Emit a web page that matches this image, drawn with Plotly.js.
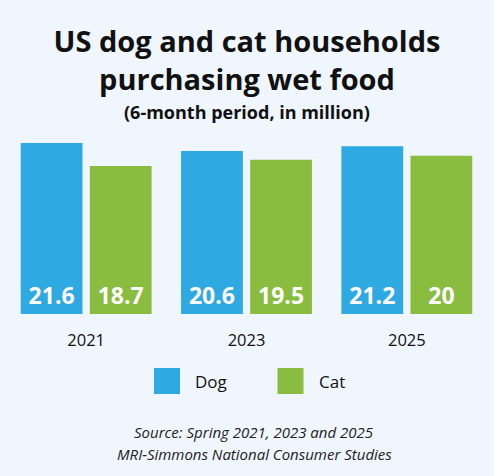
<!DOCTYPE html>
<html>
<head>
<meta charset="utf-8">
<script src="https://cdn.plot.ly/plotly-3.0.1.min.js"></script>
<style>
html,body{margin:0;padding:0;background:#EFF6FD;}
#chart{width:494px;height:476px;}
</style>
</head>
<body>
<div id="chart"></div>
<script>
// ---- data ----
var years = ["2021", "2023", "2025"];
var dogValues = [21.6, 20.6, 21.2];
var catValues = [18.7, 19.5, 20];
var seriesNames = ["Dog", "Cat"];
var dogColor = "#2EA9E1";
var catColor = "#8ABD3F";
var titleLines = ["US dog and cat households", "purchasing wet food"];
var subtitleText = "(6-month period, in million)";
var sourceLines = ["Source: Spring 2021, 2023 and 2025", "MRI-Simmons National Consumer Studies"];

// ---- layout geometry ----
var W = 494, H = 476;
var M = {l: 6, r: 7, t: 143, b: 162};
var PW = W - M.l - M.r, PH = H - M.t - M.b;
function px2x(px) { return (px - M.l) / PW; }
function px2y(py) { return (H - M.b - py) / PH; }

var FONT = "'Open Sans', Lato, sans-serif";

function barTrace(name, vals, color) {
  return {
    type: "bar",
    name: name,
    x: years,
    y: vals,
    text: vals.map(String),
    textposition: "inside",
    insidetextanchor: "start",
    constraintext: "none",
    textfont: {family: FONT, size: 23, color: "#ffffff", weight: 700},
    marker: {color: color, line: {width: 0}},
    hoverinfo: "skip",
    showlegend: false
  };
}

var data = [
  barTrace(seriesNames[0], dogValues, dogColor),
  barTrace(seriesNames[1], catValues, catColor)
];

// legend swatches + labels
var legendItems = [
  {name: seriesNames[0], color: dogColor, x0: 154},
  {name: seriesNames[1], color: catColor, x0: 277.5}
];
var shapes = [], annotations = [];
legendItems.forEach(function (it) {
  shapes.push({
    type: "rect", xref: "paper", yref: "paper",
    x0: px2x(it.x0), x1: px2x(it.x0 + 26),
    y0: px2y(394), y1: px2y(368),
    fillcolor: it.color, line: {width: 0}
  });
  annotations.push({
    xref: "paper", yref: "paper", x: px2x(it.x0 + 39), y: px2y(381),
    xanchor: "left", yanchor: "middle", showarrow: false,
    text: it.name, font: {family: FONT, size: 17, color: "#111111"}
  });
});

annotations.push({
  xref: "paper", yref: "paper", x: px2x(W / 2), y: px2y(112),
  xanchor: "center", yanchor: "middle", showarrow: false,
  text: subtitleText, font: {family: FONT, size: 18, color: "#111111", weight: 700}
});
sourceLines.forEach(function (t, i) {
  annotations.push({
    xref: "paper", yref: "paper", x: px2x(254), y: px2y(432 + i * 22),
    xanchor: "center", yanchor: "middle", showarrow: false,
    text: "<i>" + t + "</i>", font: {family: FONT, size: 15, color: "#222222"}
  });
});

var layout = {
  width: W, height: H,
  margin: M,
  paper_bgcolor: "#EFF6FD",
  plot_bgcolor: "#EFF6FD",
  title: {
    text: titleLines.join("<br>"),
    font: {family: FONT, size: 29, color: "#111111", weight: 700},
    x: 0.5, xanchor: "center",
    yref: "container", y: 1 - 52 / H, yanchor: "top"
  },
  barmode: "group",
  bargap: 0.138,
  bargroupgap: 0.106,
  xaxis: {
    type: "category",
    showgrid: false, zeroline: false, showline: false,
    ticks: "outside", ticklen: 11, tickcolor: "rgba(0,0,0,0)",
    tickfont: {family: FONT, size: 16.5, color: "#111111"},
    fixedrange: true
  },
  yaxis: {
    range: [0, 21.6],
    visible: false, showgrid: false, zeroline: false,
    fixedrange: true
  },
  shapes: shapes,
  annotations: annotations,
  showlegend: false
};

Plotly.newPlot("chart", data, layout, {displayModeBar: false, staticPlot: true});
</script>
</body>
</html>
